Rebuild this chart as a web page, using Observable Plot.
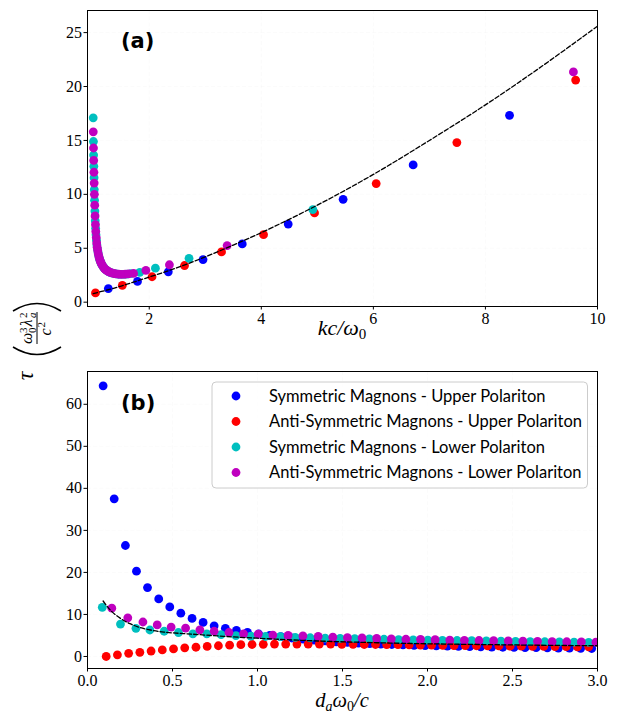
<!DOCTYPE html>
<html><head><meta charset="utf-8">
<script src="https://cdn.jsdelivr.net/npm/d3@7"></script>
<script src="https://cdn.jsdelivr.net/npm/@observablehq/plot@0.6"></script>
<style>
body{margin:0;background:#fff;}
#fig{position:relative;width:618px;height:717px;overflow:hidden;background:#fff;}
#fig svg{position:absolute;left:0;}
#fig .ax text{font-family:"Liberation Serif","DejaVu Serif",serif !important;font-size:16px !important;}
</style></head><body><div id="fig"></div>
<script>
// ---------- Panel (a): tau vs k c / omega0 ----------
const aSymUpper = [[1.27,1.26],[1.79,1.93],[2.34,2.82],[2.96,3.95],[3.66,5.4],[4.48,7.24],[5.46,9.54],[6.71,12.73],[8.43,17.33]];
const aAntiUpper = [[1.04,0.86],[1.52,1.56],[2.05,2.36],[2.63,3.4],[3.29,4.66],[4.04,6.26],[4.95,8.28],[6.05,11.0],[7.49,14.8],[9.61,20.6]];
const aSymLower = [[1.000,17.1],[1.004,14.9],[1.007,13.65],[1.011,12.6],[1.015,11.55],[1.019,10.45],[1.024,9.45],[1.03,8.45],[1.036,7.55],[1.043,6.85],[1.05,6.25],[1.058,5.75],[1.066,5.3],[1.075,4.95],[1.085,4.65],[1.096,4.35],[1.108,4.1],[1.12,3.9],[1.135,3.7],[1.15,3.52],[1.167,3.37],[1.185,3.23],[1.205,3.1],[1.228,2.99],[1.252,2.9],[1.28,2.82],[1.31,2.75],[1.345,2.69],[1.385,2.64],[1.43,2.6],[1.48,2.58],[1.54,2.58],[1.6,2.6],[1.67,2.64],[1.83,2.76],[2.11,3.15],[2.71,4.07],[4.92,8.59]];
const aAntiLower = [[1.001,15.8],[1.005,14.3],[1.009,13.15],[1.013,12.05],[1.017,11.05],[1.021,10.0],[1.027,9.0],[1.033,8.0],[1.04,7.2],[1.046,6.55],[1.054,6.0],[1.062,5.5],[1.07,5.1],[1.08,4.8],[1.09,4.5],[1.102,4.22],[1.114,4.0],[1.127,3.8],[1.142,3.6],[1.158,3.45],[1.176,3.3],[1.195,3.16],[1.216,3.04],[1.24,2.94],[1.266,2.86],[1.295,2.78],[1.327,2.72],[1.365,2.66],[1.405,2.62],[1.455,2.59],[1.51,2.58],[1.57,2.59],[1.63,2.62],[1.72,2.67],[1.94,2.95],[2.36,3.47],[3.39,5.25],[9.57,21.35]];
const aDashed = [[1.0,0.8],[1.25,1.13],[1.5,1.5],[2,2.33],[2.5,3.2],[3,4.2],[3.5,5.3],[4,6.45],[5,9.0],[6,11.85],[7,15.0],[8,18.3],[9,21.85],[10,25.6]];
const aXTicks = [2,4,6,8,10];
const aYTicks = [0,5,10,15,20,25];

// ---------- Panel (b): tau vs d_a omega0 / c ----------
const bSymUpperX = [0.092,0.157,0.223,0.288,0.353,0.419,0.484,0.549,0.615,0.680,0.745,0.811,0.876,0.941,1.007,1.072,1.137,1.202,1.268,1.333,1.398,1.464,1.529,1.594,1.660,1.725,1.790,1.856,1.921,1.986,2.052,2.117,2.182,2.248,2.313,2.378,2.443,2.509,2.574,2.639,2.705,2.770,2.835,2.901,2.966];
const bSymUpperY = [64.4,37.5,26.4,20.3,16.4,13.7,11.8,10.3,9.05,8.1,7.3,6.7,6.2,5.75,5.35,5.0,4.7,4.4,4.15,3.9,3.7,3.5,3.35,3.2,3.05,2.95,2.85,2.75,2.65,2.6,2.5,2.45,2.4,2.35,2.3,2.25,2.2,2.15,2.1,2.1,2.05,2.0,2.0,1.95,1.9];
const bAntiUpperX = [0.110,0.176,0.242,0.308,0.374,0.440,0.506,0.572,0.638,0.704,0.770,0.836,0.902,0.968,1.034,1.100,1.166,1.232,1.298,1.364,1.430,1.496,1.562,1.628,1.694,1.760,1.826,1.892,1.958,2.024,2.090,2.156,2.222,2.288,2.354,2.420,2.486,2.552,2.618,2.684,2.750,2.816,2.882,2.948];
const bAntiUpperY = [0.0,0.4,0.75,1.0,1.3,1.55,1.8,2.05,2.2,2.4,2.55,2.7,2.8,2.85,2.9,2.95,2.95,2.95,2.95,2.95,2.95,2.9,2.9,2.85,2.85,2.8,2.8,2.75,2.7,2.7,2.65,2.6,2.6,2.55,2.5,2.5,2.45,2.45,2.4,2.4,2.35,2.35,2.3,2.3];
const bSymLowerX = [0.087,0.194,0.285,0.367,0.451,0.535,0.620,0.702,0.786,0.873,0.961,1.047,1.134,1.222,1.310,1.398,1.486,1.572,1.658,1.744,1.830,1.916,2.002,2.088,2.174,2.260,2.346,2.432,2.518,2.604,2.690,2.776,2.862,2.948];
const bSymLowerY = [11.7,7.7,6.7,6.3,6.0,5.7,5.4,5.4,5.2,4.95,4.85,4.75,4.7,4.55,4.45,4.35,4.3,4.25,4.2,4.1,4.0,3.95,3.9,3.85,3.8,3.75,3.7,3.65,3.6,3.55,3.5,3.45,3.4,3.35];
const bAntiLowerX = [0.143,0.237,0.326,0.410,0.492,0.577,0.661,0.745,0.832,0.918,1.004,1.090,1.180,1.267,1.357,1.443,1.529,1.615,1.701,1.787,1.873,1.959,2.045,2.131,2.217,2.303,2.389,2.475,2.561,2.647,2.733,2.819,2.905,2.991];
const bAntiLowerY = [11.5,9.2,8.2,7.5,7.0,6.75,6.35,6.0,5.7,5.4,5.3,5.1,5.0,4.9,4.8,4.6,4.5,4.4,4.3,4.2,4.1,4.05,4.0,3.9,3.85,3.8,3.75,3.7,3.65,3.6,3.55,3.5,3.45,3.4];
const bDashed = [[0.092,13.2],[0.14,10.8],[0.2,8.9],[0.25,7.8],[0.3,7.0],[0.37,6.3],[0.45,5.8],[0.62,5.3],[0.8,4.8],[1.0,4.35],[1.2,3.95],[1.4,3.62],[1.6,3.38],[1.8,3.18],[2.0,3.02],[2.3,2.85],[2.6,2.7],[3.0,2.55]];
const bXTicks = [0,0.5,1,1.5,2,2.5,3];
const bYTicks = [0,10,20,30,40,50,60];

const seriesNames = ["Symmetric Magnons - Upper Polariton","Anti-Symmetric Magnons - Upper Polariton","Symmetric Magnons - Lower Polariton","Anti-Symmetric Magnons - Lower Polariton"];
const seriesColors = ["#0000ff","#ff0000","#00bfbf","#bf00bf"];

// ---------- drawing ----------
const SERIF = "Liberation Serif, DejaVu Serif, serif";
const SANS = "Lato, DejaVu Sans, sans-serif";
const fig = document.getElementById("fig");
const gridStyle = {stroke: "#c8c8c8", strokeWidth: 0.8, strokeDasharray: "4,2.2"};
const zip = (xs, ys) => xs.map((x, i) => [x, ys[i]]);

function dots(data, color, clip) {
  return Plot.dot(data, {x: d => d[0], y: d => d[1], r: 4.4, fill: color, stroke: "none", clip});
}

const pa = Plot.plot({
  className: "ax",
  width: 618, height: 340,
  marginLeft: 87, marginRight: 21, marginTop: 10, marginBottom: 34,
  x: {domain: [0.898, 10]},
  y: {domain: [-0.4, 27.05]},
  style: {fontFamily: SERIF, fontSize: "16px", color: "#000", background: "transparent", overflow: "visible"},
  marks: [
    Plot.gridX(aXTicks, gridStyle),
    Plot.gridY(aYTicks, gridStyle),
    dots(aSymUpper, seriesColors[0]),
    dots(aAntiUpper, seriesColors[1]),
    dots(aSymLower, seriesColors[2]),
    dots(aAntiLower, seriesColors[3]),
    Plot.line(aDashed, {x: d => d[0], y: d => d[1], stroke: "#000", strokeWidth: 1.3, strokeDasharray: "4.5,2.2", curve: "catmull-rom"}),
    Plot.frame({stroke: "#000", strokeWidth: 1}),
    Plot.axisX({ticks: aXTicks, tickSize: 3.5, tickPadding: 3, label: null, tickFormat: d => String(d), fontFamily: SERIF}),
    Plot.axisY({ticks: aYTicks, tickSize: 3.5, tickPadding: 2, label: null, tickFormat: d => String(d), fontFamily: SERIF})
  ]
});
pa.style.top = "0px";
fig.appendChild(pa);

const pb = Plot.plot({
  className: "ax",
  width: 618, height: 377,
  marginLeft: 87, marginRight: 21, marginTop: 31, marginBottom: 49,
  x: {domain: [0, 3]},
  y: {domain: [-2.86, 67.8]},
  style: {fontFamily: SERIF, fontSize: "16px", color: "#000", background: "transparent", overflow: "visible"},
  marks: [
    Plot.gridX(bXTicks, gridStyle),
    Plot.gridY(bYTicks, gridStyle),
    dots(zip(bSymUpperX, bSymUpperY), seriesColors[0], true),
    dots(zip(bAntiUpperX, bAntiUpperY), seriesColors[1], true),
    dots(zip(bSymLowerX, bSymLowerY), seriesColors[2], true),
    dots(zip(bAntiLowerX, bAntiLowerY), seriesColors[3], true),
    Plot.line(bDashed, {x: d => d[0], y: d => d[1], stroke: "#000", strokeWidth: 1.3, strokeDasharray: "4.5,2.2", curve: "catmull-rom"}),
    Plot.frame({stroke: "#000", strokeWidth: 1}),
    Plot.axisX({ticks: bXTicks, tickSize: 3.5, tickPadding: 3, label: null, tickFormat: d3.format(".1f"), fontFamily: SERIF}),
    Plot.axisY({ticks: bYTicks, tickSize: 3.5, tickPadding: 2, label: null, tickFormat: d => String(d), fontFamily: SERIF})
  ]
});
pb.style.top = "340px";
fig.appendChild(pb);

// ---------- overlay: panel letters, axis labels, shared y label, legend ----------
const NS = "http://www.w3.org/2000/svg";
const ov = document.createElementNS(NS, "svg");
ov.setAttribute("width", 618); ov.setAttribute("height", 717);
ov.style.top = "0px";
fig.appendChild(ov);
function el(tag, attrs, parent, text) {
  const e = document.createElementNS(NS, tag);
  for (const k in attrs) e.setAttribute(k, attrs[k]);
  if (text != null) e.textContent = text;
  (parent || ov).appendChild(e);
  return e;
}
// panel letters
el("text", {x: 121, y: 48, "font-family": "DejaVu Sans, sans-serif", "font-weight": "bold", "font-size": 21}, ov, "(a)");
el("text", {x: 121, y: 410, "font-family": "DejaVu Sans, sans-serif", "font-weight": "bold", "font-size": 21}, ov, "(b)");

// x label (a): kc/ω0
const xa = el("text", {x: 342, y: 335, "font-family": SERIF, "font-size": 22, "text-anchor": "middle", "font-style": "italic"});
el("tspan", {}, xa, "kc/ω");
el("tspan", {dy: 4, "font-size": 15, "font-style": "normal"}, xa, "0");
// x label (b): d_a ω0 / c
const xb = el("text", {x: 342, y: 707, "font-family": SERIF, "font-size": 20.5, "text-anchor": "middle", "font-style": "italic"});
el("tspan", {}, xb, "d");
el("tspan", {dy: 4, "font-size": 14}, xb, "a");
el("tspan", {dy: -4}, xb, "ω");
el("tspan", {dy: 4, "font-size": 14, "font-style": "normal"}, xb, "0");
el("tspan", {dy: -4}, xb, "/c");

// shared y label: τ (ω0^3 λa^2 / c^2), rotated
const g = el("g", {transform: "translate(37,340) rotate(-90)", "font-family": SERIF});
el("text", {x: -36, y: -4, "font-size": 24, "font-style": "italic", "text-anchor": "middle"}, g, "τ");
el("path", {d: "M-7,-24 Q-22,0 -7,24", fill: "none", stroke: "#000", "stroke-width": 1.5}, g);
el("path", {d: "M29,-24 Q44,0 29,24", fill: "none", stroke: "#000", "stroke-width": 1.5}, g);
el("line", {x1: -4, x2: 28, y1: 0, y2: 0, stroke: "#000", "stroke-width": 1}, g);
el("text", {x: -4, y: -5, "font-size": 16, "font-style": "italic"}, g, "ω");
el("text", {x: 7, y: -10.5, "font-size": 11}, g, "3");
el("text", {x: 7, y: -1.5, "font-size": 11}, g, "0");
el("text", {x: 13.5, y: -5, "font-size": 16, "font-style": "italic"}, g, "λ");
el("text", {x: 22, y: -10.5, "font-size": 11}, g, "2");
el("text", {x: 22, y: -1.5, "font-size": 11, "font-style": "italic"}, g, "a");
el("text", {x: 4.5, y: 13.5, "font-size": 16, "font-style": "italic"}, g, "c");
el("text", {x: 12.5, y: 8, "font-size": 11}, g, "2");

// legend
el("rect", {x: 212, y: 382, width: 375.5, height: 106, rx: 4, fill: "#fff", "fill-opacity": 0.8, stroke: "#cccccc", "stroke-width": 1});
const rowY = [396, 421.5, 447, 472.5];
seriesNames.forEach((name, i) => {
  el("circle", {cx: 236, cy: rowY[i], r: 4.4, fill: seriesColors[i]});
  el("text", {x: 269, y: rowY[i] + 5.5, "font-family": SANS, "font-size": 16.5, fill: "#000"}, ov, name);
});
</script></body></html>
